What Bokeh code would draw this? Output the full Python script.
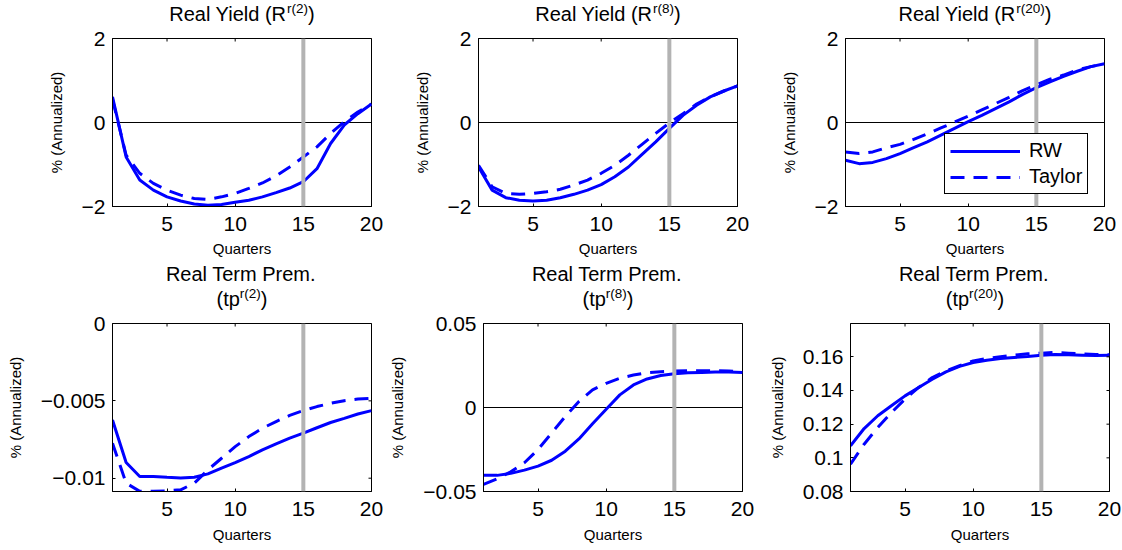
import math
from bokeh.plotting import figure
from bokeh.layouts import column, row
from bokeh.models import Range1d, Span, FixedTicker, Legend, LegendItem
from bokeh.embed import file_html
from bokeh.resources import INLINE
from bokeh.core.properties import value

FONT = "Liberation Sans"
BLUE = "#0000ff"
GRAY = "#b3b3b3"

# ---------------- data ----------------
quarters = [1, 2, 3, 4, 5, 6, 7, 8, 9, 10, 11, 12, 13, 14, 15, 16, 17, 18, 19, 20]
x_ticks = [5, 10, 15, 20]
marker_quarter = 15

ry2_rw = [0.61, -0.82, -1.37, -1.61, -1.77, -1.87, -1.94, -1.97, -1.95, -1.90,
          -1.85, -1.77, -1.67, -1.56, -1.41, -1.10, -0.50, -0.06, 0.21, 0.44]
ry2_taylor = [0.55, -0.78, -1.21, -1.45, -1.61, -1.73, -1.81, -1.83, -1.77, -1.69,
              -1.57, -1.44, -1.27, -1.06, -0.82, -0.58, -0.26, 0.02, 0.25, 0.44]

ry8_rw = [-1.06, -1.61, -1.79, -1.85, -1.87, -1.85, -1.79, -1.71, -1.61, -1.48,
          -1.29, -1.06, -0.76, -0.46, -0.14, 0.17, 0.41, 0.61, 0.75, 0.87]
ry8_taylor = [-1.02, -1.53, -1.69, -1.71, -1.69, -1.65, -1.59, -1.49, -1.37, -1.21,
              -1.02, -0.78, -0.52, -0.26, -0.01, 0.21, 0.44, 0.61, 0.75, 0.87]

ry20_rw = [-0.90, -0.98, -0.95, -0.86, -0.74, -0.60, -0.46, -0.30, -0.14, 0.02,
           0.17, 0.33, 0.49, 0.67, 0.83, 0.97, 1.10, 1.22, 1.33, 1.40]
ry20_taylor = [-0.70, -0.74, -0.70, -0.60, -0.52, -0.40, -0.27, -0.13, 0.01, 0.15,
               0.30, 0.45, 0.60, 0.76, 0.90, 1.03, 1.13, 1.25, 1.33, 1.40]

tp2_rw = [-0.00624, -0.00899, -0.00989, -0.00989, -0.00994, -0.00998, -0.00994, -0.00972, -0.00935, -0.00899,
          -0.00860, -0.00817, -0.00778, -0.00741, -0.00709, -0.00674, -0.00640, -0.00613, -0.00585, -0.00563]
tp2_taylor = [-0.00774, -0.01032, -0.01085, -0.01084, -0.01082, -0.01075, -0.01032, -0.00946, -0.00871, -0.00796,
              -0.00731, -0.00677, -0.00634, -0.00594, -0.00563, -0.00537, -0.00516, -0.00499, -0.00488, -0.00484]

tp8_rw = [-0.0404, -0.0404, -0.0392, -0.0373, -0.0349, -0.0314, -0.0260, -0.0187, -0.0097, -0.0010,
          0.0075, 0.0134, 0.0170, 0.0190, 0.0201, 0.0207, 0.0209, 0.0211, 0.0211, 0.0209]
tp8_taylor = [-0.0458, -0.0424, -0.0383, -0.0329, -0.0250, -0.0152, -0.0053, 0.0036, 0.0105, 0.0144,
              0.0174, 0.0193, 0.0207, 0.0213, 0.0217, 0.0219, 0.0219, 0.0219, 0.0217, 0.0213]

tp20_rw = [0.1071, 0.1174, 0.1250, 0.1309, 0.1368, 0.1418, 0.1467, 0.1511, 0.1543, 0.1566,
           0.1580, 0.1590, 0.1596, 0.1602, 0.1610, 0.1614, 0.1612, 0.1610, 0.1608, 0.1610]
tp20_taylor = [0.0962, 0.1081, 0.1180, 0.1269, 0.1349, 0.1418, 0.1477, 0.1517, 0.1547, 0.1576,
               0.1590, 0.1600, 0.1610, 0.1618, 0.1622, 0.1626, 0.1622, 0.1618, 0.1614, 0.1612]

ry_ticks = [-2, 0, 2]
ry_labels = ["\u22122", "0", "2"]
tp2_ticks = [-0.01, -0.005, 0]
tp2_labels = ["\u22120.01", "\u22120.005", "0"]
tp8_ticks = [-0.05, 0, 0.05]
tp8_labels = ["\u22120.05", "0", "0.05"]
tp20_ticks = [0.08, 0.1, 0.12, 0.14, 0.16]
tp20_labels = ["0.08", "0.1", "0.12", "0.14", "0.16"]

series_names = ["RW", "Taylor"]
x_label = "Quarters"
y_label = "% (Annualized)"

# Arial / Liberation Sans advance widths (per 1000 em)
AW = {"R": 722, "e": 556, "a": 556, "l": 222, " ": 278, "Y": 667, "i": 222, "d": 556,
      "(": 333, ")": 333, "r": 333, "2": 556, "8": 556, "0": 556, "T": 611, "m": 833,
      "P": 667, ".": 278, "t": 278, "p": 556}


def tw(s, size):
    return sum(AW.get(c, 556) for c in s) / 1000.0 * size


FW, FH = 259, 168
TICK_FS = 21
TITLE_FS = 20
SUP_FS = 13.5
SUP_RAISE = 7.5
BASE_SHIFT = 0.4   # text glyph anchor sits this many em above the drawn baseline


def title_fig(height, left, right, lines):
    t = figure(frame_width=FW, frame_height=height,
               min_border_left=left, min_border_right=right,
               min_border_top=0, min_border_bottom=0,
               x_range=Range1d(1, 20), y_range=Range1d(0, height),
               x_axis_type=None, y_axis_type=None,
               output_backend="svg", toolbar_location=None, title=None)
    t.outline_line_color = None
    t.background_fill_color = "white"
    t.border_fill_color = "white"
    xc = 10.5
    for (main, sup, close, base) in lines:
        w_main = tw(main, TITLE_FS)
        w_sup = tw(sup, SUP_FS) if sup else 0
        w_close = tw(close, TITLE_FS) if close else 0
        left_off = -(w_main + w_sup + w_close) / 2.0
        common = dict(text_font=value(FONT), text_color="black",
                      text_baseline="alphabetic", text_align="left")
        y_main = base + BASE_SHIFT * TITLE_FS
        y_sup = base + SUP_RAISE + BASE_SHIFT * SUP_FS
        t.text(x=[xc], y=[y_main], text=[main], x_offset=left_off,
               text_font_size=value(f"{TITLE_FS}px"), **common)
        if sup:
            t.text(x=[xc], y=[y_sup], text=[sup], x_offset=left_off + w_main,
                   text_font_size=value(f"{SUP_FS}px"), **common)
        if close:
            t.text(x=[xc], y=[y_main], text=[close], x_offset=left_off + w_main + w_sup,
                   text_font_size=value(f"{TITLE_FS}px"), **common)
    return t


def make_panel(rw, taylor, yr, yticks, ylabels, left, right, top, bottom, xlab_standoff, legend=False):
    p = figure(frame_width=FW, frame_height=FH,
               min_border_left=left, min_border_right=right,
               min_border_top=top, min_border_bottom=bottom,
               x_range=Range1d(1, 20), y_range=Range1d(yr[0], yr[1]),
               output_backend="svg", toolbar_location=None, title=None,
               x_axis_label=x_label, y_axis_label=y_label)
    p.background_fill_color = "white"
    p.border_fill_color = "white"
    p.xgrid.visible = False
    p.ygrid.visible = False
    p.outline_line_color = "black"
    p.outline_line_width = 1
    p.outline_line_alpha = 1

    p.xaxis.ticker = FixedTicker(ticks=x_ticks)
    p.yaxis.ticker = FixedTicker(ticks=yticks)
    p.yaxis.major_label_overrides = {t: l for t, l in zip(yticks, ylabels)}
    for ax in p.xaxis + p.yaxis:
        ax.axis_line_color = "black"
        ax.major_tick_line_color = "black"
        ax.major_tick_in = 3
        ax.major_tick_out = 0
        ax.minor_tick_line_color = None
        ax.major_label_text_font = FONT
        ax.major_label_text_font_size = f"{TICK_FS}px"
        ax.major_label_text_color = "black"
        ax.axis_label_text_font = FONT
        ax.axis_label_text_font_size = "15px"
        ax.axis_label_text_font_style = "normal"
        ax.axis_label_text_color = "black"
    p.xaxis.major_label_standoff = 10
    p.xaxis.axis_label_standoff = xlab_standoff
    p.yaxis.major_label_standoff = 7
    p.yaxis.axis_label_standoff = 14

    if yr[0] < 0 < yr[1]:
        p.add_layout(Span(location=0, dimension="width", line_color="black", line_width=1,
                          level="underlay"))

    r1 = p.line(quarters, rw, line_color=BLUE, line_width=3)
    r2 = p.line(quarters, taylor, line_color=BLUE, line_width=3, line_dash="14 9")

    p.add_layout(Span(location=marker_quarter, dimension="height", line_color=GRAY, line_width=4))

    # mirrored inward tick marks on the top and right edges
    p.scatter(x=x_ticks, y=[yr[1]] * len(x_ticks), marker="dash", size=6, angle=math.pi / 2,
              line_color="black", line_width=1)
    p.scatter(x=[20] * len(yticks), y=yticks, marker="dash", size=6,
              line_color="black", line_width=1)

    if legend:
        lg = Legend(items=[LegendItem(label=series_names[0], renderers=[r1]),
                           LegendItem(label=series_names[1], renderers=[r2])],
                    location=(99, 12), margin=0, padding=5, spacing=3,
                    glyph_width=70, glyph_height=20, label_height=20, label_standoff=9,
                    label_text_font=FONT, label_text_font_size="20px", label_text_color="black",
                    border_line_color="black", border_line_width=1, border_line_alpha=1,
                    background_fill_color="white", background_fill_alpha=1)
        p.add_layout(lg)
    return p


L1, L2, L3 = 112, 92, 93
R1, R2, R3 = 15, 15, 15

PTOP = 12          # panel border above frame (room for top tick labels)
T1_H = 26          # title strip above first row
BOT1 = 57
T2_H = 48          # title strip above second row
BOT2 = 58

t1 = title_fig(T1_H, L1, R1, [("Real Yield (R", "r(2)", ")", 5)])
t2 = title_fig(T1_H, L2, R2, [("Real Yield (R", "r(8)", ")", 5)])
t3 = title_fig(T1_H, L3, R3, [("Real Yield (R", "r(20)", ")", 5)])

p1 = make_panel(ry2_rw, ry2_taylor, (-2, 2), ry_ticks, ry_labels, L1, R1, PTOP, BOT1, 6)
p2 = make_panel(ry8_rw, ry8_taylor, (-2, 2), ry_ticks, ry_labels, L2, R2, PTOP, BOT1, 6)
p3 = make_panel(ry20_rw, ry20_taylor, (-2, 2), ry_ticks, ry_labels, L3, R3, PTOP, BOT1, 6, legend=True)

t4 = title_fig(T2_H, L1, R1, [("Real Term Prem.", "", "", 29.5), ("(tp", "r(2)", ")", 5)])
t5 = title_fig(T2_H, L2, R2, [("Real Term Prem.", "", "", 29.5), ("(tp", "r(8)", ")", 5)])
t6 = title_fig(T2_H, L3, R3, [("Real Term Prem.", "", "", 29.5), ("(tp", "r(20)", ")", 5)])

p4 = make_panel(tp2_rw, tp2_taylor, (-0.01086, 0), tp2_ticks, tp2_labels, L1, R1, PTOP, BOT2, 7)
p5 = make_panel(tp8_rw, tp8_taylor, (-0.05, 0.05), tp8_ticks, tp8_labels, L2, R2, PTOP, BOT2, 7)
p6 = make_panel(tp20_rw, tp20_taylor, (0.08, 0.1798), tp20_ticks, tp20_labels, L3, R3, PTOP, BOT2, 7)

layout = column(row(t1, t2, t3), row(p1, p2, p3), row(t4, t5, t6), row(p4, p5, p6))

open("out.html", "w").write(file_html(layout, INLINE))
